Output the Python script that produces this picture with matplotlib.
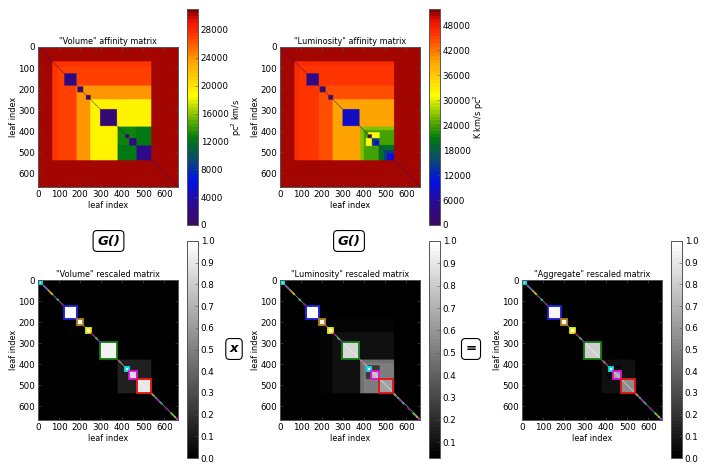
import numpy as np
import matplotlib
matplotlib.use("Agg")
import matplotlib.pyplot as plt
from matplotlib.colors import LinearSegmentedColormap
from matplotlib.patches import Rectangle

W, H = 706, 471
N = 665
TICKS = [0, 100, 200, 300, 400, 500, 600]

# nested blocks: (start, end, value)
vol_levels = [(0, 665, 30500), (68, 538, 27200), (95, 538, 26800), (183, 538, 23800),
              (248, 538, 19000), (378, 538, 12300), (378, 465, 13000)]
vol_clusters = [(125, 183, 2000), (187, 215, 800), (228, 250, 1000), (295, 375, 1300),
                (415, 433, 800), (433, 468, 2400), (468, 538, 2800)]
lum_levels = [(0, 665, 51000), (68, 538, 46500), (90, 538, 46000), (183, 538, 44000),
              (248, 538, 39500), (378, 538, 26000), (395, 538, 24000), (465, 538, 19500)]
lum_patches = [(405, 433, 415, 470, 31000), (433, 470, 405, 433, 31000)]
lum_clusters = [(125, 183, 3500), (187, 215, 1000), (228, 250, 1300), (295, 375, 8500),
                (415, 433, 1000), (433, 468, 15000), (445, 468, 9000), (490, 538, 15000),
                (505, 538, 10000)]

rv_levels = [(378, 538, 0.13)]
rv_clusters = [(5, 20, 0.98), (125, 183, 0.97), (187, 215, 0.98), (228, 250, 0.98),
               (295, 375, 0.95), (415, 433, 0.98), (433, 468, 0.85), (468, 538, 0.90)]
rl_levels = [(183, 538, 0.06), (248, 538, 0.10), (378, 538, 0.46), (395, 538, 0.50)]
rl_patches = [(405, 433, 415, 470, 0.25), (433, 470, 405, 433, 0.25)]
rl_clusters = [(5, 20, 0.98), (125, 183, 1.0), (187, 215, 0.93), (228, 250, 0.98),
               (295, 375, 0.84), (415, 433, 0.98), (433, 468, 0.74), (468, 538, 0.64)]
ra_levels = [(378, 538, 0.07)]
ra_patches = [(405, 433, 415, 470, 0.02), (433, 470, 405, 433, 0.02)]
ra_clusters = [(5, 20, 0.98), (125, 183, 0.96), (187, 215, 0.98), (228, 250, 0.98),
               (295, 375, 0.80), (415, 433, 0.98), (433, 468, 0.65), (468, 538, 0.55)]

box_spans = [(5, 20), (125, 183), (187, 215), (228, 250), (295, 375), (415, 433), (433, 468), (468, 538)]
box_colors = ['#00e5e5', '#2020e0', '#b8801a', '#f0f000', '#108010', '#00e5e5', '#e010e0', '#e81010']
diag_spans = [(25, 35), (36, 46), (47, 58), (59, 70), (90, 98), (110, 120), (252, 262), (272, 284), (286, 296),
              (385, 395), (540, 552), (555, 565), (566, 576), (578, 590), (604, 618), (630, 645), (646, 654), (655, 663)]
diag_colors = ['#a050a0', '#3080d0', '#e09020', '#c0d000', '#40c0b0', '#a02060', '#a000a0', '#60a060', '#7020c0',
               '#c06080', '#d09050', '#40a0a0', '#e010c0', '#30a0a0', '#802090', '#60c040', '#a0d040', '#e020e0']

vol_ticks = list(range(0, 28001, 4000))
lum_ticks = list(range(0, 48001, 6000))
gray_ticks = [round(0.1 * i, 1) for i in range(11)]
gray_ticks_l = gray_ticks[1:]

cmap = LinearSegmentedColormap.from_list('aff', [
    (0.00, '#3a0a66'), (0.10, '#2a0a98'), (0.20, '#0010e8'), (0.30, '#0a4a70'),
    (0.40, '#007a10'), (0.47, '#50a800'), (0.60, '#ffff00'), (0.76, '#ffa500'),
    (0.88, '#ff3a00'), (0.95, '#f01000'), (1.00, '#800000')], N=64)
gray = plt.get_cmap('gray', 64)


def build(levels, clusters, patches=(), diag=0.0):
    m = np.zeros((N, N))
    for a, b, v in levels:
        m[a:b, a:b] = v
    for r0, r1, c0, c1, v in patches:
        m[r0:r1, c0:c1] = v
    for a, b, v in clusters:
        m[a:b, a:b] = v
    for k in range(-1, 2):
        i = np.arange(max(0, -k), N - max(0, k))
        m[i, i + k] = diag
    return m


fig = plt.figure(figsize=(W / 100, H / 100), dpi=100)
plt.rcParams['font.family'] = 'DejaVu Sans'
FS = 6.3
FL = 5.9
FRAME = '#555555'


def rect(x0, y0, x1, y1):
    return [x0 / W, 1 - y1 / H, (x1 - x0) / W, (y1 - y0) / H]


def panel(pos, cpos, m, title, cm, vmin, vmax, cticks, clabel=None):
    ax = fig.add_axes(rect(*pos))
    im = ax.imshow(m, cmap=cm, vmin=vmin, vmax=vmax, interpolation='antialiased',
                   interpolation_stage='rgba', extent=(0, N, N, 0), aspect='auto')
    ax.set_xticks(TICKS)
    ax.set_yticks(TICKS)
    ax.tick_params(labelsize=FS, direction='in', length=2, width=0.4, top=True, right=True, pad=2, color=FRAME)
    ax.set_xlabel('leaf index', fontsize=FL, labelpad=1.5)
    ax.set_ylabel('leaf index', fontsize=FL, labelpad=0.5)
    ax.set_title(title, fontsize=FL, pad=2.5)
    for s in ax.spines.values():
        s.set_linewidth(0.7)
        s.set_color(FRAME)
    cax = fig.add_axes(rect(*cpos))
    cb = fig.colorbar(im, cax=cax, ticks=cticks)
    cb.ax.tick_params(labelsize=FS, direction='in', length=2, width=0.4, pad=2, color=FRAME)
    cb.outline.set_linewidth(0.7)
    cb.outline.set_edgecolor(FRAME)
    if clabel:
        cb.set_label(clabel, fontsize=FL, labelpad=0.5)
    return ax


def decorate(ax):
    for (a, b), c in zip(diag_spans, diag_colors):
        ax.plot([a, b], [a, b], color=c, lw=1.3, solid_capstyle='butt')
    for (a, b), c in zip(box_spans, box_colors):
        ax.add_patch(Rectangle((a, a), b - a, b - a, fill=False, edgecolor=c, lw=1.3))
    ax.set_xlim(0, N)
    ax.set_ylim(N, 0)


ax1 = panel((38, 47, 178, 187), (187, 9, 198, 225), build(vol_levels, vol_clusters, diag=1500),
            '"Volume" affinity matrix', cmap, 0, 31000, vol_ticks, r'pc$^2$ km/s')
ax2 = panel((280, 47, 420, 187), (429, 9, 440, 225), build(lum_levels, lum_clusters, lum_patches, diag=2500),
            '"Luminosity" affinity matrix', cmap, 0, 51900, lum_ticks, r'K km/s pc$^2$')
ax3 = panel((38, 280, 178, 420), (187, 241, 198, 458), build(rv_levels, rv_clusters, diag=1.0),
            '"Volume" rescaled matrix', gray, 0, 1, gray_ticks)
ax4 = panel((280, 280, 420, 420), (429, 241, 440, 458), build(rl_levels, rl_clusters, rl_patches, diag=1.0),
            '"Luminosity" rescaled matrix', gray, 0.03, 1, gray_ticks_l)
ax5 = panel((522, 280, 662, 420), (671, 241, 682, 458), build(ra_levels, ra_clusters, ra_patches, diag=1.0),
            '"Aggregate" rescaled matrix', gray, 0, 1, gray_ticks)
for a in (ax3, ax4, ax5):
    decorate(a)

for txt, px, py in [('G()', 108.5, 241), ('G()', 349, 241), ('x', 234, 349), ('=', 471, 349)]:
    fig.text(px / W, 1 - py / H, txt, fontsize=9.5, fontweight='bold', fontstyle='italic',
             ha='center', va='center',
             bbox=dict(boxstyle='round,pad=0.3', fc='white', ec='black', lw=0.8))

fig.savefig('out.png', dpi=100)
